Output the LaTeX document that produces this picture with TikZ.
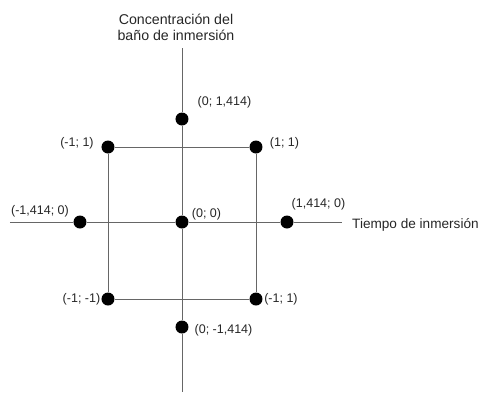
\documentclass[tikz,border=0pt]{standalone}
\usepackage{fontspec}
\setmainfont{Liberation Sans}

\begin{document}
\begin{tikzpicture}[x=1pt,y=1pt,
  spot/.style={circle,fill=black,inner sep=0pt,minimum size=13pt},
  ln/.style={draw=black!60,line width=0.8pt},
  lbl/.style={font=\fontsize{12.5}{14}\selectfont,text=black!85,inner sep=0pt},
  axtitle/.style={font=\fontsize{14.2}{16}\selectfont,text=black!85,inner sep=0pt,align=center}]

\useasboundingbox (-182,-170) rectangle (303,222);

%-------------------------------------------------------------------
% Design points (centre, star and factorial points)
\foreach \n/\x/\y in {O/0/0,T/0/103,B/0/-105,L/-102/0,R/105/0,
                      NW/-74/75,NE/74/75,SW/-74/-77,SE/74/-77}{
    \node[spot] (\n) at (\x,\y) {};
}

% Axis ends
\coordinate (vtop) at (0,174);
\coordinate (vbot) at (0,-170);
\coordinate (hleft) at (-172,0);
\coordinate (hright) at (160,0);

% Axes
\draw[ln] (vtop)--(T)--(O)--(B)--(vbot);
\draw[ln] (hleft)--(L)--(O)--(R)--(hright);

% Square of the factorial points
\draw[ln] (NW)--(NE)--(SE)--(SW)--(NW);

%-------------------------------------------------------------------
% Point labels
\node[lbl] (lT)  at (42.5,120)  {(0; 1,414)};
\node[lbl] (lNW) at (-105,79)   {(-1; 1)};
\node[lbl] (lNE) at (102.5,79)  {(1; 1)};
\node[lbl] (lL)  at (-142,11)   {(-1,414; 0)};
\node[lbl] (lO)  at (24.5,8)    {(0; 0)};
\node[lbl] (lR)  at (136.5,18)  {(1,414; 0)};
\node[lbl] (lSW) at (-100.5,-77) {(-1; -1)};
\node[lbl] (lSE) at (99,-77)    {(-1; 1)};
\node[lbl] (lB)  at (41.5,-108) {(0; -1,414)};

% Axis titles
\node[axtitle] (ytitle) at (-6,195) {Concentración del\\baño de inmersión};
\node[axtitle,font=\fontsize{13.6}{16}\selectfont,anchor=west] (xtitle) at (170,-3) {Tiempo de inmersión};

\end{tikzpicture}
\end{document}
